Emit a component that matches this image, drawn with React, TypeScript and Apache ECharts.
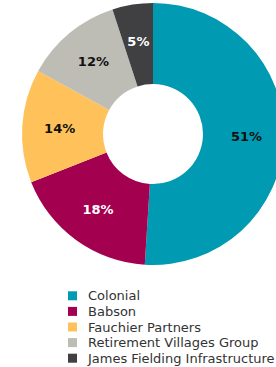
import React, { useEffect, useRef } from "react";
import * as echarts from "echarts";

const categories = ["Colonial", "Babson", "Fauchier Partners", "Retirement Villages Group", "James Fielding Infrastructure"];
const values = [51, 18, 14, 12, 5];
const colors = ["#009AB2", "#A3004F", "#FFC25A", "#BDBCB5", "#404043"];
const labelColors = ["#111111", "#ffffff", "#111111", "#111111", "#ffffff"];

export default function App() {
  const ref = useRef<HTMLDivElement>(null);
  useEffect(() => {
    document.body.style.margin = "0";
    if (!ref.current) return;
    const chart = echarts.init(ref.current, undefined, { renderer: "svg" });
    chart.setOption({
      animation: false,
      legend: {
        orient: "vertical",
        left: 68,
        top: 289,
        height: 90,
        itemWidth: 9,
        itemHeight: 9,
        itemGap: 2,
        icon: "rect",
        padding: 0,
        textStyle: { fontSize: 13, color: "#333333", fontFamily: "DejaVu Sans", padding: [0, 0, 0, 6], lineHeight: 13.6 },
        data: categories,
      },
      series: [
        {
          type: "pie",
          center: [153, 134],
          radius: [50, 131],
          startAngle: 90,
          clockwise: true,
          avoidLabelOverlap: false,
          label: {
            show: true,
            position: "inside",
            formatter: "{c}%",
            fontSize: 13,
            fontWeight: "bold",
            fontFamily: "DejaVu Sans",
          },
          labelLine: { show: false },
          itemStyle: { borderWidth: 0 },
          data: categories.map((name, i) => ({
            name,
            value: values[i],
            itemStyle: { color: colors[i] },
            label: { color: labelColors[i] },
          })),
        },
      ],
    });
    return () => chart.dispose();
  }, []);
  return <div ref={ref} style={{ width: 276, height: 367 }} />;
}
